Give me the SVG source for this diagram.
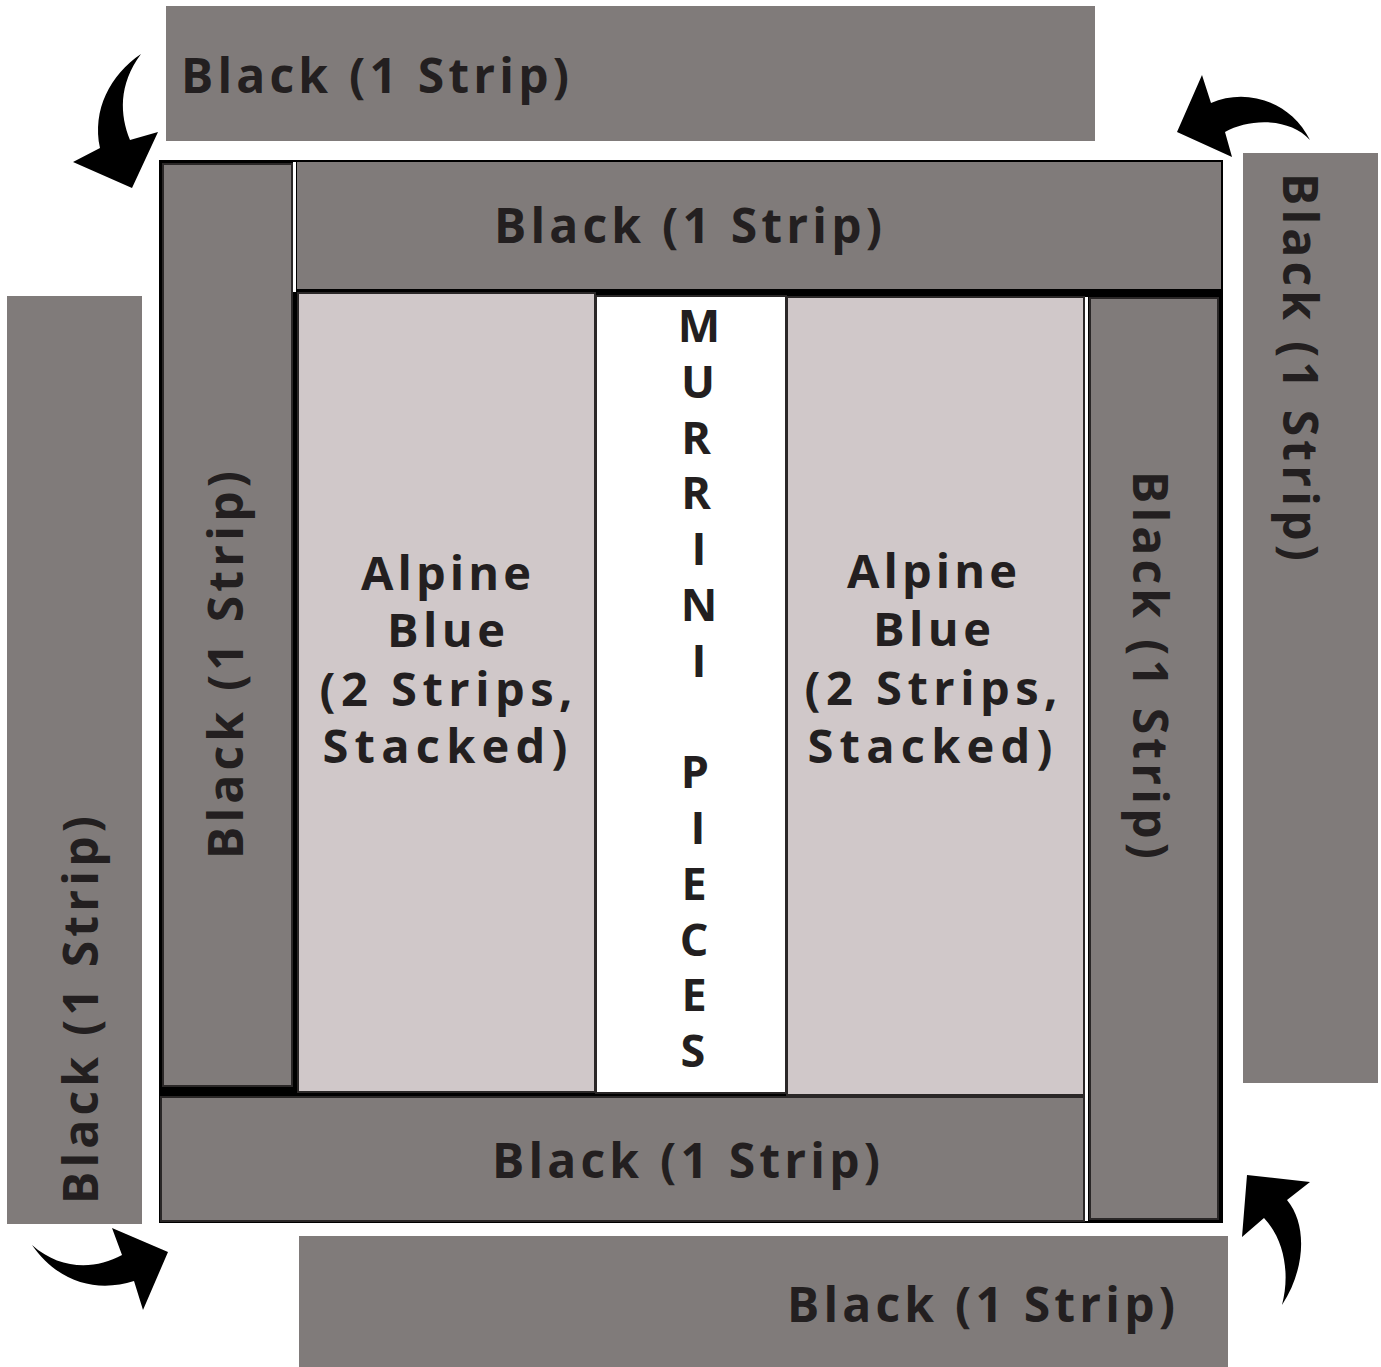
<svg xmlns="http://www.w3.org/2000/svg" width="1381" height="1367" viewBox="0 0 1381 1367">
<style>
.strip{fill:#807b7a;}
.piece{stroke:#2a2727;stroke-width:2;}
.alp{fill:#d0c8c9;}
.lbl{font-family:"Open Sans","Liberation Sans",sans-serif;font-weight:bold;font-size:48px;fill:#231f20;text-anchor:middle;}
.alab{font-family:"Open Sans","Liberation Sans",sans-serif;font-weight:bold;font-size:47px;fill:#231f20;text-anchor:middle;}
.mur{font-family:"Open Sans","Liberation Sans",sans-serif;font-weight:bold;font-size:45px;fill:#231f20;text-anchor:middle;}
.arrow{fill:#000;}
</style>
<rect width="1381" height="1367" fill="#fff"/>
<g id="outer-top">
<rect class="strip" x="166" y="6" width="929" height="135"/>
<text class="lbl" x="375" y="93" textLength="388" lengthAdjust="spacing">Black (1 Strip)</text>
</g>
<g id="outer-right">
<rect class="strip" x="1243" y="153" width="135" height="930"/>
<text class="lbl" transform="translate(1283,367) rotate(90)" x="0" y="0" textLength="388" lengthAdjust="spacing">Black (1 Strip)</text>
</g>
<g id="outer-left">
<rect class="strip" x="7" y="296" width="135" height="928"/>
<text class="lbl" transform="translate(98,1010) rotate(-90)" x="0" y="0" textLength="388" lengthAdjust="spacing">Black (1 Strip)</text>
</g>
<g id="outer-bottom">
<rect class="strip" x="299" y="1236" width="929" height="131"/>
<text class="lbl" x="981" y="1322" textLength="388" lengthAdjust="spacing">Black (1 Strip)</text>
</g>
<g id="frame">
<rect x="159" y="160" width="1064" height="1063" fill="#000"/>
<rect x="293" y="162" width="3" height="130" fill="#fff"/>
<rect x="1085" y="297" width="3" height="924" fill="#fff"/>
</g>
<g id="inner-left">
<rect class="strip piece" x="163" y="164" width="129" height="922"/>
<text class="lbl" transform="translate(243,665) rotate(-90)" x="0" y="0" textLength="388" lengthAdjust="spacing">Black (1 Strip)</text>
</g>
<g id="inner-top">
<rect class="strip" x="297" y="162" width="924" height="127"/>
<text class="lbl" x="688" y="243" textLength="388" lengthAdjust="spacing">Black (1 Strip)</text>
</g>
<g id="alpine-left">
<rect class="alp piece" x="298" y="293" width="297" height="799"/>
<text class="alab" x="446" y="590" textLength="170" lengthAdjust="spacing">Alpine</text>
<text class="alab" x="446" y="647" textLength="118" lengthAdjust="spacing">Blue</text>
<text class="alab" x="446" y="706" textLength="253" lengthAdjust="spacing">(2 Strips,</text>
<text class="alab" x="445" y="763" textLength="245" lengthAdjust="spacing">Stacked)</text>
</g>
<g id="murrini">
<rect x="596" y="296" width="190" height="797" fill="#fff" class="piece"/>
<text class="mur" x="699" y="342">M</text>
<text class="mur" x="698" y="398">U</text>
<text class="mur" x="696" y="454">R</text>
<text class="mur" x="696" y="509">R</text>
<text class="mur" x="699" y="565">I</text>
<text class="mur" x="699" y="621">N</text>
<text class="mur" x="699" y="677">I</text>
<text class="mur" x="695" y="788">P</text>
<text class="mur" x="698" y="844">I</text>
<text class="mur" x="694" y="900">E</text>
<text class="mur" x="694" y="956">C</text>
<text class="mur" x="694" y="1011">E</text>
<text class="mur" x="693" y="1067">S</text>
</g>
<g id="alpine-right">
<rect class="alp piece" x="787" y="297" width="297" height="798"/>
<text class="alab" x="932" y="588" textLength="170" lengthAdjust="spacing">Alpine</text>
<text class="alab" x="932" y="646" textLength="118" lengthAdjust="spacing">Blue</text>
<text class="alab" x="931" y="705" textLength="253" lengthAdjust="spacing">(2 Strips,</text>
<text class="alab" x="930" y="763" textLength="245" lengthAdjust="spacing">Stacked)</text>
</g>
<g id="inner-right">
<rect class="strip piece" x="1090" y="298" width="128" height="921"/>
<text class="lbl" transform="translate(1133,665) rotate(90)" x="0" y="0" textLength="388" lengthAdjust="spacing">Black (1 Strip)</text>
</g>
<g id="inner-bottom">
<rect class="strip piece" x="161" y="1097" width="923" height="124"/>
<text class="lbl" x="686" y="1178" textLength="388" lengthAdjust="spacing">Black (1 Strip)</text>
</g>
<g id="connectors">
<path class="arrow" d="M141,54 C110,75 92,110 100,148 L73,162 L132,188 L158,132 L130,140 C120,115 118,85 141,54 Z"/>
<path class="arrow" d="M1310,140 C1290,100 1245,88 1211,103 L1202,75 L1177,132 L1232,157 L1225,132 C1250,118 1290,118 1310,140 Z"/>
<path class="arrow" d="M32,1245 C60,1270 95,1270 122,1255 L112,1228 L168,1252 L143,1310 L134,1281 C100,1292 60,1285 32,1245 Z"/>
<path class="arrow" d="M1282,1305 C1305,1270 1308,1225 1287,1200 L1310,1182 L1247,1175 L1242,1237 L1264,1218 C1285,1240 1290,1275 1282,1305 Z"/>
</g>
</svg>
